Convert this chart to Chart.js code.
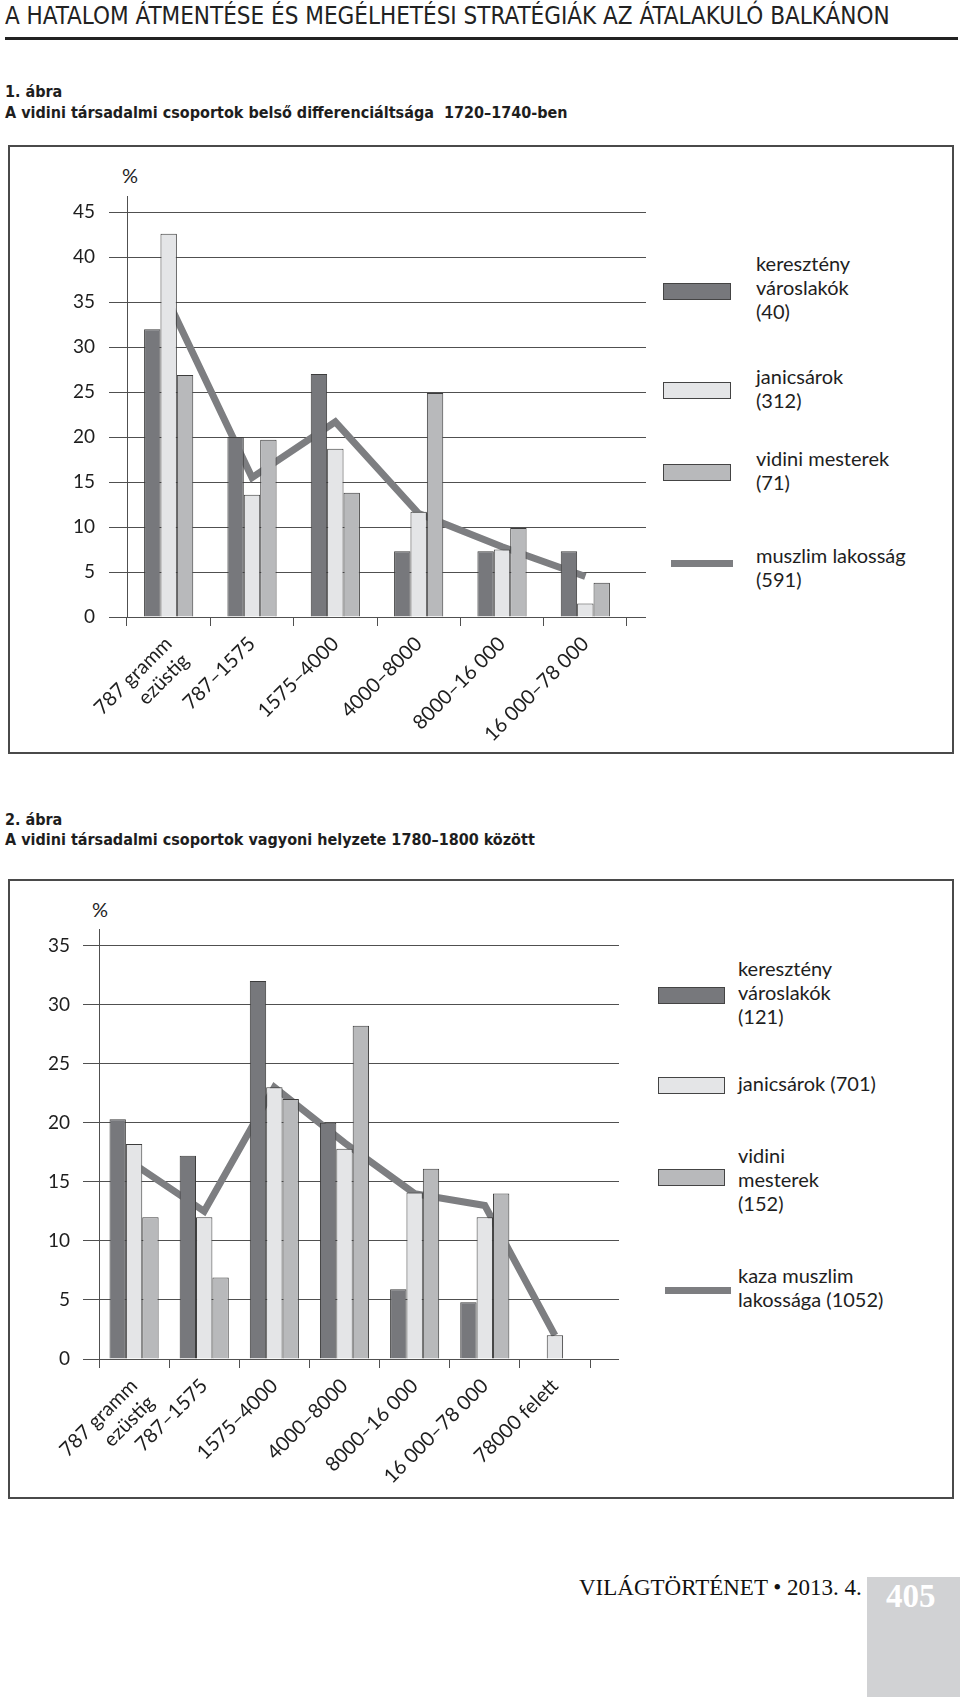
<!DOCTYPE html>
<html>
<head>
<meta charset="utf-8">
<title>Vidin 1720-1800</title>
<script src="https://cdn.jsdelivr.net/npm/chart.js@4.4.1/dist/chart.umd.min.js"></script>
<style>
  body { margin:0; width:960px; height:1697px; position:relative; background:#fff; color:#1e1e1e; font-family:Lato, "Open Sans", sans-serif; overflow:hidden; }
  .t { position:absolute; white-space:nowrap; }
  #head { left:5px; top:3px; font-family:"Liberation Sans Narrow","DejaVu Sans Condensed",sans-serif; font-size:24px; line-height:26px; color:#222; }
  #rule { position:absolute; left:5px; top:37px; width:953px; height:3px; background:#222; }
  .cap { font-family:"Liberation Sans Narrow","DejaVu Sans Condensed",sans-serif; font-weight:bold; font-size:16px; line-height:21px; }
  .box { position:absolute; border:2px solid #4a4a4a; box-sizing:border-box; }
  canvas { position:absolute; }
  .leg { font-size:20px; line-height:24px; }
  .pct { font-size:20px; line-height:24px; }
  .sw { position:absolute; border:1px solid #444; box-sizing:border-box; height:17px; }
  .ln { position:absolute; height:7px; background:#7d7e81; }
  #foot { left:579px; top:1573px; font-family:"Liberation Serif","DejaVu Serif",serif; font-size:23px; line-height:30px; color:#111; }
  #lap { position:absolute; left:867px; top:1577px; width:93px; height:120px; background:#d1d2d4; }
  #lapszam { left:886px; top:1578px; font-family:"Liberation Serif","DejaVu Serif",serif; font-weight:bold; font-size:33px; line-height:36px; color:#fff; }
</style>
</head>
<body>

<div class="t" id="head">A HATALOM ÁTMENTÉSE ÉS MEGÉLHETÉSI STRATÉGIÁK AZ ÁTALAKULÓ BALKÁNON</div>
<div id="rule"></div>

<div class="t cap" style="left:5px;top:81px">1. ábra<br>A vidini társadalmi csoportok belső differenciáltsága&nbsp; 1720–1740-ben</div>
<div class="box" style="left:8px;top:145px;width:946px;height:609px"></div>
<div class="t pct" style="left:122px;top:163px">%</div>
<canvas id="abra1" width="645" height="605" style="left:8px;top:145px"></canvas>

<div class="sw" style="left:663px;top:283px;width:68px;background:#77787c"></div>
<div class="t leg" style="left:756px;top:251px">keresztény<br>városlakók<br>(40)</div>
<div class="sw" style="left:663px;top:382px;width:68px;background:#e4e5e7"></div>
<div class="t leg" style="left:756px;top:364px">janicsárok<br>(312)</div>
<div class="sw" style="left:663px;top:464px;width:68px;background:#b8b9bb"></div>
<div class="t leg" style="left:756px;top:446px">vidini mesterek<br>(71)</div>
<div class="ln" style="left:671px;top:560px;width:62px"></div>
<div class="t leg" style="left:756px;top:543px">muszlim lakosság<br>(591)</div>

<div class="t cap" style="left:5px;top:810px;line-height:20px">2. ábra<br>A vidini társadalmi csoportok vagyoni helyzete 1780–1800 között</div>
<div class="box" style="left:8px;top:879px;width:946px;height:620px"></div>
<div class="t pct" style="left:92px;top:897px">%</div>
<canvas id="abra2" width="645" height="617" style="left:8px;top:879px"></canvas>

<div class="sw" style="left:658px;top:987px;width:67px;background:#77787c"></div>
<div class="t leg" style="left:738px;top:956px">keresztény<br>városlakók<br>(121)</div>
<div class="sw" style="left:658px;top:1077px;width:67px;background:#e4e5e7"></div>
<div class="t leg" style="left:738px;top:1071px">janicsárok (701)</div>
<div class="sw" style="left:658px;top:1169px;width:67px;background:#b8b9bb"></div>
<div class="t leg" style="left:738px;top:1143px">vidini<br>mesterek<br>(152)</div>
<div class="ln" style="left:665px;top:1287px;width:66px"></div>
<div class="t leg" style="left:738px;top:1263px">kaza muszlim<br>lakossága (1052)</div>

<div class="t" id="foot">VILÁGTÖRTÉNET • 2013. 4.</div>
<div id="lap"></div>
<div class="t" id="lapszam">405</div>

<script>
// 1. abra: 1720-1740
var kat1 = [['787 gramm', 'ezüstig'], '787–1575', '1575–4000', '4000–8000', '8000–16 000', '16 000–78 000'];
var kereszteny1 = [32, 20, 27, 7.3, 7.3, 7.3];
var janicsar1 = [42.6, 13.6, 18.7, 11.7, 7.5, 1.5];
var mester1 = [26.9, 19.7, 13.8, 24.9, 9.9, 3.8];
var muszlim1 = [35, 15.5, 21.7, 11.5, 7.8, 4.5];

// 2. abra: 1780-1800
var kat2 = [['787 gramm', 'ezüstig'], '787–1575', '1575–4000', '4000–8000', '8000–16 000', '16 000–78 000', '78000 felett'];
var kereszteny2 = [20.3, 17.2, 32, 20, 5.9, 4.8, null];
var janicsar2 = [18.2, 12, 23, 17.8, 14.1, 12, 2];
var mester2 = [12, 6.9, 22, 28.2, 16.1, 14, null];
var muszlim2 = [16.5, 12.5, 23, 18.3, 14, 13, 2];

var sotet = '#77787c', vilagos = '#e4e5e7', kozep = '#b8b9bb', vonal = '#7d7e81';
var keret = '#3c3c3c', racs = '#505050';

// horizontal grid lines run on a little past the last category
var racsToldas = {
  id: 'racsToldas',
  beforeDatasetsDraw: function (chart, args, opts) {
    var ctx = chart.ctx, y = chart.scales.y, area = chart.chartArea;
    ctx.save();
    ctx.strokeStyle = racs;
    ctx.lineWidth = 1;
    y.ticks.forEach(function (t) {
      var py = Math.floor(y.getPixelForValue(t.value)) + 0.5;
      ctx.beginPath();
      ctx.moveTo(area.right, py);
      ctx.lineTo(area.right + opts.ext, py);
      ctx.stroke();
    });
    ctx.restore();
  }
};

function oszlop(adat, szin) {
  return { type: 'bar', data: adat, backgroundColor: szin, borderColor: keret, borderWidth: 1, order: 1 };
}

function abra(id, kat, k, j, m, mu, o) {
  var el = document.getElementById(id);
  return new Chart(el, {
    data: {
      labels: kat,
      datasets: [
        oszlop(k, sotet),
        oszlop(j, vilagos),
        oszlop(m, kozep),
        {
          type: 'line',
          data: mu,
          borderColor: vonal,
          borderWidth: 7,
          borderCapStyle: 'butt',
          borderJoinStyle: 'miter',
          pointRadius: 0,
          fill: false,
          tension: 0,
          order: 2   // drawn under the bars
        }
      ]
    },
    options: {
      responsive: false,
      animation: false,
      events: [],
      layout: { padding: { left: 0, top: o.top, right: o.right, bottom: o.bottom } },
      datasets: { bar: { categoryPercentage: o.cat, barPercentage: 1 } },
      plugins: {
        legend: { display: false },
        tooltip: { enabled: false },
        racsToldas: { ext: o.ext }
      },
      scales: {
        x: {
          offset: true,
          grid: { display: true, drawOnChartArea: false, drawTicks: true, tickLength: 9, color: racs, offset: true },
          border: { display: true, color: racs },
          ticks: {
            autoSkip: false, maxRotation: 45, minRotation: 45, padding: 6,
            color: '#1e1e1e', font: { family: 'Lato', size: 20, lineHeight: 1.2 }
          },
          afterFit: function (s) { s.height = 130; }
        },
        y: {
          min: 0, max: o.max,
          grid: { color: racs, tickLength: o.tl, drawTicks: true },
          border: { display: true, color: racs },
          ticks: {
            stepSize: 5, includeBounds: false, padding: o.pad,
            color: '#1e1e1e', font: { family: 'Lato', size: 19 }
          },
          afterFit: function (s) { s.width = o.w; }
        }
      }
    },
    plugins: [racsToldas]
  });
}

abra('abra1', kat1, kereszteny1, janicsar1, mester1, muszlim1,
  { top: 51, right: 26, bottom: 3, w: 119, max: 46.8, cat: 0.59, ext: 19, tl: 18, pad: 14 });
abra('abra2', kat2, kereszteny2, janicsar2, mester2, muszlim2,
  { top: 50, right: 63, bottom: 7, w: 91, max: 36.4, cat: 0.70, ext: 29, tl: 16, pad: 13 });
</script>
</body>
</html>
